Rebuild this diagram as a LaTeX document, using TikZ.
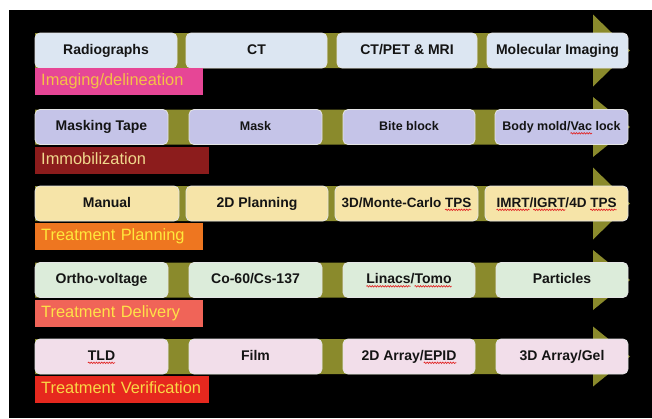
\documentclass[tikz,border=0pt]{standalone}
\usepackage{fontspec}
\setmainfont{Liberation Sans}
\usetikzlibrary{decorations.pathmorphing}

% palette
\definecolor{olivebar}{RGB}{138,138,44}
\definecolor{spellred}{RGB}{225,40,40}
\definecolor{imgbox}{RGB}{220,230,242}
\definecolor{immbox}{RGB}{197,196,232}
\definecolor{planbox}{RGB}{246,228,168}
\definecolor{delbox}{RGB}{220,236,218}
\definecolor{verbox}{RGB}{242,222,234}
\definecolor{imglab}{RGB}{230,70,150}
\definecolor{imgtxt}{RGB}{245,192,70}
\definecolor{immlab}{RGB}{140,28,28}
\definecolor{immtxt}{RGB}{240,215,140}
\definecolor{planlab}{RGB}{238,118,32}
\definecolor{plantxt}{RGB}{255,232,60}
\definecolor{dellab}{RGB}{240,100,88}
\definecolor{deltxt}{RGB}{255,226,72}
\definecolor{verlab}{RGB}{230,40,30}
\definecolor{vertxt}{RGB}{250,215,70}

% red wavy underline under flagged words
\newsavebox\spellbox
\newlength\spellwd
\newcommand\spell[1]{%
  \sbox\spellbox{#1}\setlength\spellwd{\wd\spellbox}%
  \rlap{\tikz[overlay,x=1pt,y=1pt,baseline=0pt,sharp corners]
    \draw[spellred,line width=0.7pt,decorate,
      decoration={snake,amplitude=0.7pt,segment length=2.6pt}]
      (0pt,-2.8pt) -- (\spellwd,-2.8pt);}%
  \usebox\spellbox}

% olive band with arrow head; #1 = centre line, #2 = half height of the head
\newcommand\rowarrow[2]{%
  \fill[olivebar] (35,#1-17.5) -- (593,#1-17.5) -- (593,#1-#2) -- (630,#1)
    -- (593,#1+#2) -- (593,#1+17.5) -- (35,#1+17.5) -- cycle;}

\begin{document}
\begin{tikzpicture}[x=1pt,y=-1pt,
  stage/.style={draw=white!90!black, line width=0.8pt, rounded corners=5pt,
    minimum height=35pt, inner sep=0pt, text=black!92,
    text height=10pt, text depth=3pt,
    font=\fontsize{14}{16}\selectfont\bfseries},
  smalltext/.style={font=\fontsize{12.5}{15}\selectfont\bfseries},
  midtext/.style={font=\fontsize{13.5}{15}\selectfont\bfseries},
  tag/.style={anchor=north west, minimum height=27pt, inner xsep=6pt,
    inner ysep=0pt, align=left, text height=11.5pt, text depth=3.5pt,
    font=\fontsize{16.4}{18}\selectfont}
]
\useasboundingbox (0,0) rectangle (652,418);
\fill[white] (0,0) rectangle (652,418);
\fill[black] (9,10) rectangle (652,418);

% bands
\rowarrow{50.5}{36}
\rowarrow{127}{30}
\rowarrow{203.5}{36}
\rowarrow{280}{30}
\rowarrow{356.5}{30}

% imaging
\node[stage, fill=imgbox, minimum width=142pt] (rad) at (106,50.5) {Radiographs};
\node[stage, fill=imgbox, minimum width=141pt] (ct) at (256.5,50.5) {CT};
\node[stage, fill=imgbox, minimum width=140pt] (pet) at (407,50.5) {CT/PET \& MRI};
\node[stage, fill=imgbox, minimum width=141pt] (mol) at (557.5,50.5) {Molecular Imaging};
\node[tag, fill=imglab, text=imgtxt, text width=156pt] (limg) at (35,68) {Imaging/delineation};

% immobilization
\node[stage, fill=immbox, minimum width=133pt] (tape) at (101.5,127) {Masking Tape};
\node[stage, smalltext, fill=immbox, minimum width=133pt] (mask) at (255.5,127) {Mask};
\node[stage, smalltext, fill=immbox, minimum width=132pt] (bite) at (409,127) {Bite block};
\node[stage, smalltext, fill=immbox, minimum width=133pt] (body) at (561.5,127) {Body mold/\spell{Vac} lock};
\node[tag, fill=immlab, text=immtxt, text width=162pt] (limm) at (35,147) {Immobilization};

% treatment planning
\node[stage, fill=planbox, minimum width=144pt] (manual) at (107,203.5) {Manual};
\node[stage, fill=planbox, minimum width=142pt] (plan2d) at (257,203.5) {2D Planning};
\node[stage, midtext, fill=planbox, minimum width=143pt] (monte) at (406.5,203.5) {3D/Monte-Carlo \spell{TPS}};
\node[stage, midtext, fill=planbox, minimum width=143pt] (imrt) at (556.5,203.5) {\spell{IMRT}/\spell{IGRT}/4D \spell{TPS}};
\node[tag, fill=planlab, text=plantxt, text width=156pt] (lplan) at (35,223) {Treatment Planning};

% treatment delivery
\node[stage, fill=delbox, minimum width=133pt] (ortho) at (101.5,280) {Ortho-voltage};
\node[stage, fill=delbox, minimum width=133pt] (cobalt) at (255.5,280) {Co-60/Cs-137};
\node[stage, fill=delbox, minimum width=132pt] (linac) at (409,280) {\spell{Linacs}/\spell{Tomo}};
\node[stage, fill=delbox, minimum width=132pt] (part) at (562,280) {Particles};
\node[tag, fill=dellab, text=deltxt, text width=156pt] (ldel) at (35,300) {Treatment Delivery};

% treatment verification
\node[stage, fill=verbox, minimum width=133pt] (tld) at (101.5,356.5) {\spell{TLD}};
\node[stage, fill=verbox, minimum width=133pt] (film) at (255.5,356.5) {Film};
\node[stage, fill=verbox, minimum width=132pt] (epid) at (409,356.5) {2D Array/\spell{EPID}};
\node[stage, fill=verbox, minimum width=132pt] (gel) at (562,356.5) {3D Array/Gel};
\node[tag, fill=verlab, text=vertxt, text width=162pt] (lver) at (35,376) {Treatment Verification};
\end{tikzpicture}
\end{document}
